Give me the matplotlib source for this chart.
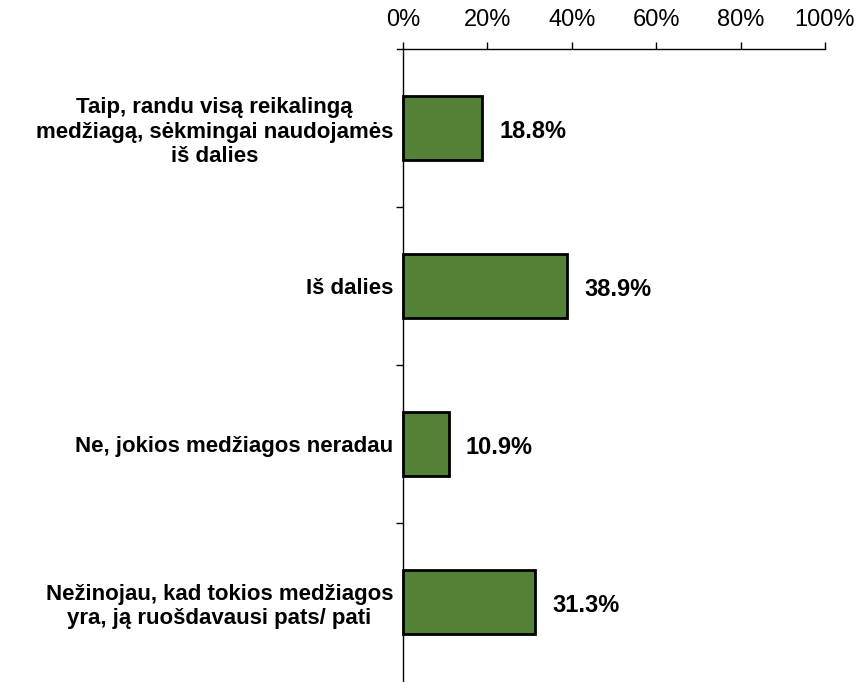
import numpy as np
import matplotlib
matplotlib.use("Agg")
import matplotlib.pyplot as plt
from matplotlib.ticker import FuncFormatter, FixedLocator

plt.rcParams['font.family'] = ['Liberation Sans', 'DejaVu Sans']

categories = [
    "Taip, randu visą reikalingą\nmedžiagą, sėkmingai naudojamės\niš dalies",
    "Iš dalies",
    "Ne, jokios medžiagos neradau",
    "Nežinojau, kad tokios medžiagos\nyra, ją ruošdavausi pats/ pati",
]
values = [18.8, 38.9, 10.9, 31.3]
xticks = [0, 20, 40, 60, 80, 100]

fig = plt.figure(figsize=(8.62, 6.82), dpi=100)
# axes start a little left of 0% so the top line sticks out past the y axis
ax = fig.add_axes([397/862, 0.001, 428/862, 1 - 49/682 - 0.001])
ax.spines['left'].set_position(('data', 0))

y = np.arange(len(categories))
ax.barh(y, values, height=0.405, color='#538135', edgecolor='black', linewidth=2)

for yi, v in zip(y, values):
    ax.annotate(f"{v:.1f}%", (v, yi), xytext=(17, -3), textcoords='offset pixels',
                ha='left', va='center', fontsize=17, fontweight='bold')

ax.set_xlim(-1.4, 100)
ax.set_ylim(len(categories) - 0.5, -0.5)

ax.xaxis.tick_top()
ax.set_xticks(xticks)
ax.xaxis.set_major_formatter(FuncFormatter(lambda v, p: f"{v:.0f}%"))
ax.tick_params(axis='x', direction='out', length=5, width=1, labelsize=17, pad=8)

ax.set_yticks(y)
ax.set_yticklabels(categories, fontsize=16, fontweight='bold')
for lab in ax.get_yticklabels():
    lab.set_multialignment('center')
ax.tick_params(axis='y', which='major', length=0, pad=7)
ax.yaxis.set_minor_locator(FixedLocator(y[:-1] + 0.5))
ax.tick_params(axis='y', which='minor', direction='out', length=5, width=1)

ax.spines['right'].set_visible(False)
ax.spines['bottom'].set_visible(False)
ax.spines['top'].set_linewidth(1)
ax.spines['left'].set_linewidth(1)

fig.savefig("out.png", dpi=100)
